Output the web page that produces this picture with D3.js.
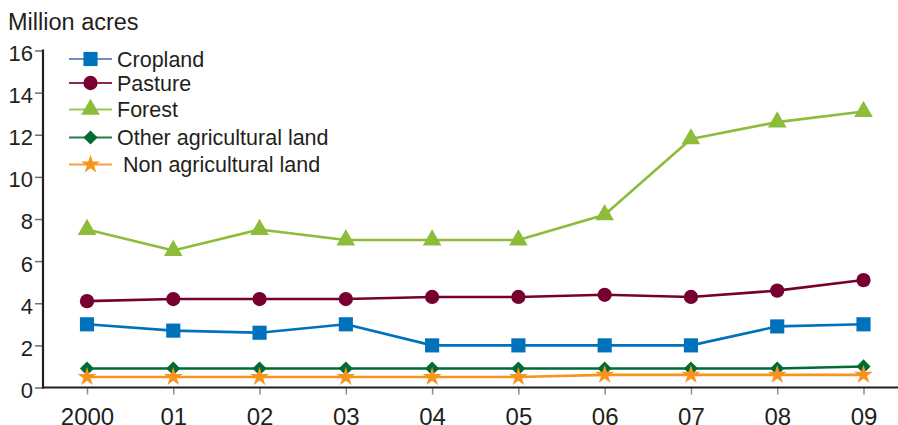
<!DOCTYPE html>
<html><head><meta charset="utf-8">
<script src="https://cdn.jsdelivr.net/npm/d3@7"></script>
<style>html,body{margin:0;padding:0;background:#fff;}svg{display:block;}</style>
</head><body>
<svg id="c" width="898" height="425"></svg>
<script>
const years = ["2000","01","02","03","04","05","06","07","08","09"];
const yTicks = [0,2,4,6,8,10,12,14,16];
const cropland = [3.0,2.7,2.6,3.0,2.0,2.0,2.0,2.0,2.9,3.0];
const pasture = [4.1,4.2,4.2,4.2,4.3,4.3,4.4,4.3,4.6,5.1];
const forest = [7.5,6.5,7.5,7.0,7.0,7.0,8.2,11.8,12.6,13.1];
const otherAg = [0.9,0.9,0.9,0.9,0.9,0.9,0.9,0.9,0.9,1.0];
const nonAg = [0.5,0.5,0.5,0.5,0.5,0.5,0.6,0.6,0.6,0.6];
const seriesNames = ["Cropland","Pasture","Forest","Other agricultural land"," Non agricultural land"];

const series = [
  {name:seriesNames[0], values:cropland, color:"#0072bc", legendLine:"#6d8ec4", sym:d3.symbolSquare, size:200, rot:0},
  {name:seriesNames[1], values:pasture, color:"#760030", legendLine:"#8e2a55", sym:d3.symbolCircle, size:160, rot:0},
  {name:seriesNames[2], values:forest, color:"#8dbb3a", legendLine:"#9cc65a", sym:d3.symbolTriangle, size:150, rot:0},
  {name:seriesNames[3], values:otherAg, color:"#006b35", legendLine:"#2a7a48", sym:d3.symbolSquare, size:100, rot:45},
  {name:seriesNames[4], values:nonAg, color:"#f7941d", legendLine:"#f7a040", sym:d3.symbolStar, size:110, rot:0}
];

const svg = d3.select("#c");
const font = "'Liberation Sans', Arial, Helvetica, sans-serif";
const x = d3.scaleLinear().domain([0, years.length-1]).range([87, 863.5]);
const y = d3.scaleLinear().domain([0,16]).range([387.5, 50.5]);

// Y axis title
svg.append("text").attr("x",8).attr("y",30).attr("font-family",font).attr("font-size",23.5)
  .attr("fill","#231f20").text("Million acres");

// Y axis
const yAxis = d3.axisLeft(y).tickValues(yTicks).tickSize(8).tickPadding(2).tickFormat(d3.format("d"));
const gy = svg.append("g").attr("transform","translate(43,0)").call(yAxis);
gy.select(".domain").remove();
gy.selectAll(".tick line").attr("stroke","#6d6e71").attr("stroke-width",1.5);
gy.selectAll(".tick text").attr("font-family",font).attr("font-size",22).attr("fill","#231f20").attr("dy","0.45em");
svg.append("line").attr("x1",43).attr("x2",43).attr("y1",y(16)-1).attr("y2",y(0)+1)
  .attr("stroke","#231f20").attr("stroke-width",2.2);

// X axis
const xAxis = d3.axisBottom(x).tickValues(d3.range(years.length)).tickSize(7).tickPadding(13).tickFormat(i=>years[i]);
const gx = svg.append("g").attr("transform",`translate(0,${y(0)})`).call(xAxis);
gx.select(".domain").remove();
gx.selectAll(".tick line").attr("stroke","#8a8c8e").attr("stroke-width",1.5);
gx.selectAll(".tick text").attr("font-family",font).attr("font-size",24).attr("fill","#231f20");
svg.append("line").attr("x1",42).attr("x2",898).attr("y1",y(0)).attr("y2",y(0))
  .attr("stroke","#231f20").attr("stroke-width",2.2);

// Series
const line = d3.line().x((d,i)=>x(i)).y(d=>y(d));
series.forEach(s=>{
  svg.append("path").datum(s.values).attr("d",line).attr("fill","none")
    .attr("stroke",s.color).attr("stroke-width",2.6).attr("stroke-linejoin","round");
  svg.selectAll(null).data(s.values).enter().append("path")
    .attr("d",d3.symbol().type(s.sym).size(s.size))
    .attr("transform",(d,i)=>`translate(${x(i)},${y(d)}) rotate(${s.rot})`)
    .attr("fill",s.color);
});

// Legend
const legendY = [59,83,109.5,137.5,164.5];
series.forEach((s,k)=>{
  const g = svg.append("g").attr("transform",`translate(0,${legendY[k]})`);
  g.append("line").attr("x1",69).attr("x2",112).attr("y1",0).attr("y2",0)
    .attr("stroke",s.legendLine).attr("stroke-width",2.2);
  g.append("path").attr("d",d3.symbol().type(s.sym).size(s.size)).attr("transform",`translate(90.5,0) rotate(${s.rot})`)
    .attr("fill",s.color);
  g.append("text").attr("x",117).attr("y",0).attr("dy","0.36em").attr("font-family",font)
    .attr("font-size",21.5).attr("fill","#231f20").attr("xml:space","preserve").style("white-space","pre").text(s.name);
});
</script>
</body></html>
